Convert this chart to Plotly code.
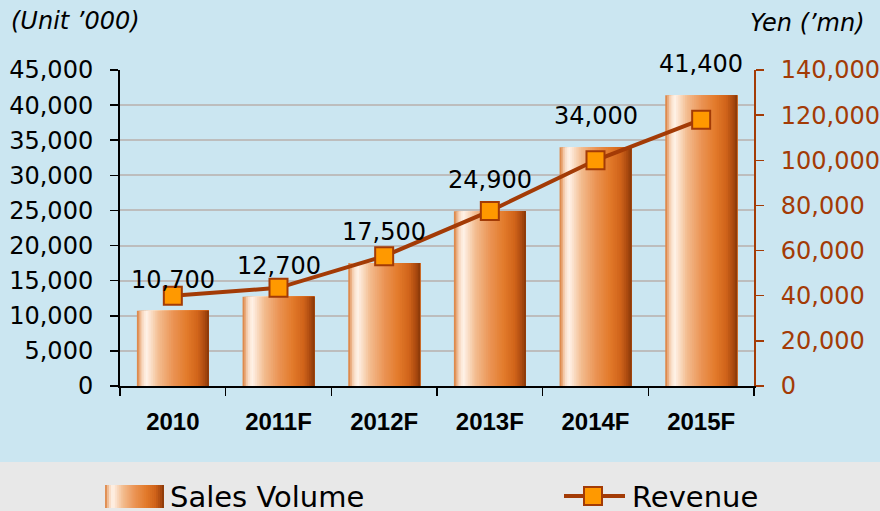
import plotly.graph_objects as go

categories = ["2010", "2011F", "2012F", "2013F", "2014F", "2015F"]
sales_volume = [10700, 12700, 17500, 24900, 34000, 41400]
revenue = [40000, 43500, 57500, 77500, 100000, 118000]
left_ticks = list(range(0, 45001, 5000))
right_ticks = list(range(0, 140001, 20000))

BROWN = "#a33b06"
ORANGE = "#ff9900"
BLUE_BG = "#cbe6f1"
GREY_BG = "#e8e8e8"

stops = [
    (0.00, "#d97a35"),
    (0.07, "#f7d6bb"),
    (0.13, "#fff3ea"),
    (0.30, "#f3bd90"),
    (0.50, "#eb9455"),
    (0.70, "#e27a2a"),
    (0.85, "#d0631a"),
    (0.95, "#a8480f"),
    (1.00, "#853709"),
]


def hex2rgb(h):
    h = h.lstrip("#")
    return tuple(int(h[i:i + 2], 16) for i in (0, 2, 4))


def grad(t):
    for (p0, c0), (p1, c1) in zip(stops[:-1], stops[1:]):
        if p0 <= t <= p1:
            f = (t - p0) / (p1 - p0) if p1 > p0 else 0
            a, b = hex2rgb(c0), hex2rgb(c1)
            r = [round(a[k] + (b[k] - a[k]) * f) for k in range(3)]
            return "rgb({},{},{})".format(*r)
    return stops[-1][1]


# plot area in pixels
L, R, T, B = 120, 754, 70, 386
W_PX, H_PX = 880, 511


def px(X):
    return (X - L) / (R - L)


def py(Y):
    return (B - Y) / (B - T)


fig = go.Figure()

N = 40
BW = 0.68
for i in range(N):
    fig.add_trace(go.Bar(
        x=categories, y=sales_volume,
        width=BW - i * BW / N, offset=-BW / 2 + i * BW / N,
        marker=dict(color=grad((i + 0.5) / N), line=dict(width=0)),
        showlegend=False, hoverinfo="skip", yaxis="y",
    ))

fig.add_trace(go.Scatter(
    x=categories, y=revenue, yaxis="y2", mode="lines+markers",
    line=dict(color=BROWN, width=4),
    marker=dict(symbol="square", size=18, color=ORANGE, line=dict(color=BROWN, width=2)),
    showlegend=False, hoverinfo="skip",
))

annotations = []
for i, v in enumerate(sales_volume):
    annotations.append(dict(
        x=i, y=v, xref="x", yref="y", text=f"{v:,}", showarrow=False,
        yanchor="bottom", yshift=15,
        font=dict(family="DejaVu Sans", size=24, color="black"),
    ))

annotations.append(dict(
    x=px(9), y=py(21), xref="paper", yref="paper", text="<i>(Unit \u2019000)</i>",
    showarrow=False, xanchor="left", yanchor="middle",
    font=dict(family="DejaVu Sans", size=24, color="black"),
))
annotations.append(dict(
    x=px(867), y=py(23), xref="paper", yref="paper", text="<i>Yen (\u2019mn)</i>",
    showarrow=False, xanchor="right", yanchor="middle",
    font=dict(family="DejaVu Sans", size=24, color="black"),
))
annotations.append(dict(
    x=px(168), y=py(497), xref="paper", yref="paper", text="Sales Volume",
    showarrow=False, xanchor="left", yanchor="middle",
    font=dict(family="DejaVu Sans", size=29, color="black"),
))
annotations.append(dict(
    x=px(630), y=py(497), xref="paper", yref="paper", text="Revenue",
    showarrow=False, xanchor="left", yanchor="middle",
    font=dict(family="DejaVu Sans", size=29, color="black"),
))

shapes = [
    dict(type="rect", xref="paper", yref="paper", x0=px(-10), x1=px(W_PX + 10),
         y0=py(462), y1=py(-10), fillcolor=BLUE_BG, line=dict(width=0), layer="below"),
]
M = 30
for i in range(M):
    shapes.append(dict(
        type="rect", xref="paper", yref="paper",
        x0=px(105 + i * 59 / M), x1=px(164), y0=py(508), y1=py(485),
        fillcolor=grad((i + 0.5) / M), line=dict(width=0),
    ))
shapes.append(dict(type="line", xref="paper", yref="paper", x0=px(564), x1=px(625),
                   y0=py(496), y1=py(496), line=dict(color=BROWN, width=4)))
shapes.append(dict(type="rect", xref="paper", yref="paper", x0=px(584), x1=px(602),
                   y0=py(505), y1=py(487), fillcolor=ORANGE, line=dict(color=BROWN, width=2)))

fig.update_layout(
    width=W_PX, height=H_PX,
    margin=dict(l=L, r=W_PX - R, t=T, b=H_PX - B, pad=0, autoexpand=False),
    paper_bgcolor=GREY_BG, plot_bgcolor="rgba(0,0,0,0)",
    barmode="overlay", showlegend=False,
    annotations=annotations, shapes=shapes,
    xaxis=dict(
        type="category", range=[-0.5, 5.5], showline=True, linecolor="black", linewidth=2,
        ticks="outside", tickson="boundaries", ticklen=8, tickcolor="black", tickwidth=1.5,
        tickfont=dict(family="Liberation Sans", size=24, color="black", weight="bold"),
        ticklabelstandoff=13, showgrid=False, fixedrange=True, automargin=False,
    ),
    yaxis=dict(
        range=[0, 45000], tickvals=left_ticks, tickformat=",", showline=True,
        linecolor="black", linewidth=2, ticks="outside", ticklen=8, tickcolor="black",
        tickwidth=1.5, tickfont=dict(family="DejaVu Sans", size=24, color="black"),
        ticklabelstandoff=12, showgrid=True, gridcolor="#bdbdbd", gridwidth=2,
        zeroline=False, automargin=False,
    ),
    yaxis2=dict(
        range=[0, 140000], tickvals=right_ticks, tickformat=",", overlaying="y",
        side="right", showline=True, linecolor=BROWN, linewidth=2, ticks="outside",
        ticklen=8, tickcolor=BROWN, tickwidth=1.5,
        tickfont=dict(family="DejaVu Sans", size=24, color=BROWN),
        ticklabelstandoff=12, showgrid=False, zeroline=False, automargin=False,
    ),
)

fig.write_html(
    "out.html",
    config={"displayModeBar": False, "staticPlot": True},
    post_script="document.documentElement.style.overflow='hidden';"
                "document.documentElement.style.margin='0';"
                "document.documentElement.style.background='" + BLUE_BG + "';"
                "document.body.style.margin='0';document.body.style.padding='0';"
                "document.body.style.overflow='hidden';"
                "document.body.style.background='" + BLUE_BG + "';",
)
